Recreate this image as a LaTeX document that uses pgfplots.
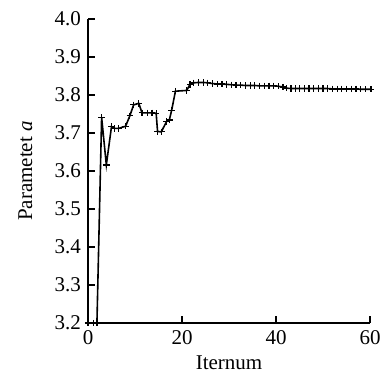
\documentclass[border=0pt]{standalone}
\usepackage{pgfplots}
\pgfplotsset{compat=1.18}
\usepackage{fontspec}
\setmainfont{Liberation Serif}
\begin{document}
\fontsize{21}{25}\selectfont
\begin{tikzpicture}
\begin{axis}[
  scale only axis, width=282pt, height=304pt,
  xmin=0, xmax=60, ymin=3.2, ymax=4.0,
  axis x line*=bottom, axis y line*=left,
  axis line style={line width=1.5pt, -},
  tick align=inside, major tick length=7pt,
  tick style={line width=1.5pt, black},
  xtick={0,20,40,60},
  ytick={3.2,3.3,3.4,3.5,3.6,3.7,3.8,3.9,4.0},
  yticklabel style={/pgf/number format/.cd, fixed, fixed zerofill, precision=1},
  /pgf/number format/assume math mode=true,
  ticklabel style={font=\fontsize{21}{25}\selectfont},
  label style={font=\fontsize{21}{25}\selectfont},
  xlabel={Iternum}, ylabel={Parametet \textit{a}},
  xlabel style={yshift=3pt},
  ylabel style={yshift=8pt},
  clip=false,
]
\addplot[black, line width=1.6pt, mark=+, mark size=3.2pt, mark options={line width=1.2pt}] coordinates {
(0,3.200) (1.2,3.200) (1.9,3.200) (2.9,3.741) (3.9,3.616) (5.0,3.717) (5.7,3.712) (6.5,3.712)
(8.0,3.718) (8.9,3.745) (9.7,3.774) (10.8,3.778) (11.5,3.753) (12.6,3.753) (13.6,3.753)
(14.5,3.752) (14.8,3.704) (15.6,3.703) (16.7,3.730) (17.3,3.734) (17.8,3.760) (18.6,3.810)
(21.0,3.812) (21.7,3.828) (22.5,3.832) (23.5,3.833) (24.5,3.833) (25.5,3.832) (26.5,3.830)
(27.5,3.829) (28.5,3.829) (29.5,3.828) (30.5,3.827) (31.5,3.826) (32.5,3.826) (33.5,3.825)
(34.5,3.825) (35.5,3.825) (36.5,3.824) (37.5,3.824) (38.5,3.824) (39.5,3.824) (40.5,3.823)
(41.5,3.821) (42.3,3.818) (43.2,3.817) (44.1,3.817) (45.0,3.817) (46.0,3.817) (47.0,3.817)
(48.0,3.817) (49.0,3.817) (50.0,3.817) (51.0,3.817) (52.0,3.816) (53.0,3.816) (54.0,3.816)
(55.0,3.816) (56.0,3.816) (57.0,3.816) (58.0,3.815) (59.0,3.815) (60.2,3.815)
};
\end{axis}
\pgfresetboundingbox
\path ([xshift=-88pt,yshift=-51pt]current axis.south west) rectangle ([xshift=15pt,yshift=19pt]current axis.north east);
\end{tikzpicture}
\end{document}
